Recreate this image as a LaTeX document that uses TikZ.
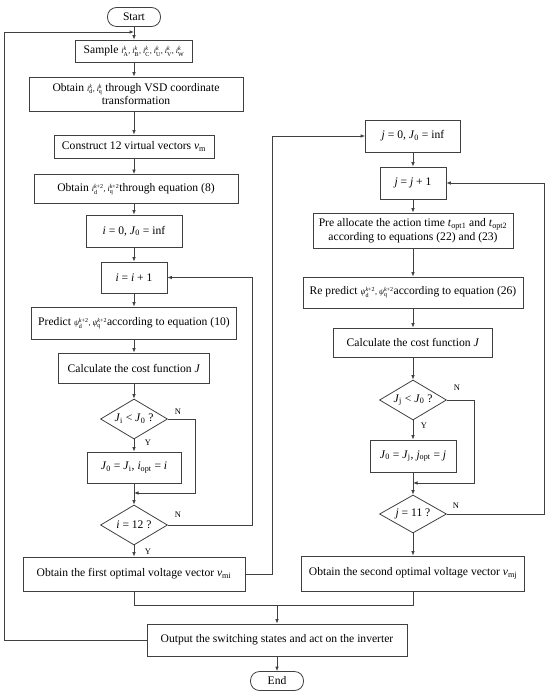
\documentclass[tikz,border=0pt]{standalone}
\usepackage{fontspec}
\setmainfont{Liberation Serif}
\usepackage{amsmath}
\usetikzlibrary{shapes.geometric,arrows.meta}
\definecolor{linegray}{RGB}{64,64,64}
\newcommand\vq[3]{\ensuremath{\text{\itshape #1}^{\text{#3}}_{\text{#2}}}}
\begin{document}
\begin{tikzpicture}[x=1pt,y=-1pt,
  line/.style={draw=linegray, line width=0.8pt},
  arr/.style={line, -{Latex[length=4.5pt,width=3.6pt]}},
  box/.style={draw=linegray, line width=0.8pt, rectangle, inner sep=1pt, align=center, font=\fontsize{11.6}{13.6}\selectfont},
  term/.style={box, rounded corners=9pt, minimum width=53pt, minimum height=19pt},
  dec/.style={draw=linegray, line width=0.8pt, diamond, aspect=1.7, inner sep=0pt, minimum width=67pt, minimum height=40pt, font=\fontsize{11.6}{13.6}\selectfont},
  lab/.style={font=\fontsize{8.5}{9}\selectfont, inner sep=0pt}
]
\useasboundingbox (0,0) rectangle (550,692);
% left column
\node[term] (start) at (134,17) {Start};
\node[box, minimum width=117pt, minimum height=22pt] (sample) at (134,51) {Sample {\footnotesize \vq{i}{A}{\itshape k}, \vq{i}{B}{\itshape k}, \vq{i}{C}{\itshape k}, \vq{i}{U}{\itshape k}, \vq{i}{V}{\itshape k}, \vq{i}{W}{\itshape k}}};
\node[box, minimum width=214pt, minimum height=34pt] (vsd) at (136,94) {Obtain {\footnotesize\vq{i}{d}{\itshape k}, \vq{i}{q}{\itshape k}} through VSD coordinate\\transformation};
\node[box, minimum width=160pt, minimum height=23pt] (cons) at (134,146.5) {Construct 12 virtual vectors \textit{v}\textsubscript{m}};
\node[box, minimum width=204pt, minimum height=29pt] (obt8) at (136,189) {Obtain {\footnotesize\vq{i}{d}{\itshape k\upshape+2}, \vq{i}{q}{\itshape k\upshape+2}}through equation (8)};
\node[box, minimum width=96pt, minimum height=32pt] (i0) at (134,231) {\textit{i} = 0, \textit{J}\textsubscript{0} = inf};
\node[box, minimum width=66pt, minimum height=31pt] (inc) at (134,277.5) {\textit{i} = \textit{i} + 1};
\node[box, minimum width=205pt, minimum height=32pt] (pred) at (134,323) {Predict {\footnotesize\vq{ψ}{d}{\itshape k\upshape+2}, \vq{ψ}{q}{\itshape k\upshape+2}}according to equation (10)};
\node[box, minimum width=151pt, minimum height=30pt] (calc) at (134,368) {Calculate the cost function \textit{J}};
\node[dec] (d1) at (134,419) {\textit{J}\textsubscript{i} < \textit{J}\textsubscript{0} ?};
\node[box, minimum width=94pt, minimum height=31pt] (j0i) at (134,467.5) {\textit{J}\textsubscript{0} = \textit{J}\textsubscript{i}, \textit{i}\textsubscript{opt} = \textit{i}};
\node[dec] (d2) at (134,525) {\textit{i} = 12 ?};
\node[box, minimum width=222pt, minimum height=34pt] (obt1) at (134,574) {Obtain the first optimal voltage vector \textit{v}\textsubscript{mi}};
% right column
\node[box, minimum width=95pt, minimum height=32pt] (rj0) at (413,136) {\textit{j} = 0, \textit{J}\textsubscript{0} = inf};
\node[box, minimum width=66pt, minimum height=32pt] (rinc) at (413,183) {\textit{j} = \textit{j} + 1};
\node[box, minimum width=200pt, minimum height=35pt] (pre) at (413,230.5) {Pre allocate the action time \textit{t}\textsubscript{opt1} and \textit{t}\textsubscript{opt2}\\according to equations (22) and (23)};
\node[box, minimum width=220pt, minimum height=31pt] (rpred) at (413,292.5) {Re predict {\footnotesize\vq{ψ}{d}{\itshape k\upshape+2}, \vq{ψ}{q}{\itshape k\upshape+2}}according to equation (26)};
\node[box, minimum width=159pt, minimum height=29pt] (rcalc) at (413,342.5) {Calculate the cost function \textit{J}};
\node[dec] (d3) at (413,400) {\textit{J}\textsubscript{j} < \textit{J}\textsubscript{0} ?};
\node[box, minimum width=86pt, minimum height=32pt] (j0j) at (413,456) {\textit{J}\textsubscript{0} = \textit{J}\textsubscript{j}, \textit{j}\textsubscript{opt} = \textit{j}};
\node[dec, minimum height=38pt] (d4) at (413,514) {\textit{j} = 11 ?};
\node[box, minimum width=223pt, minimum height=35pt] (obt2) at (413,573.5) {Obtain the second optimal voltage vector \textit{v}\textsubscript{mj}};
% bottom
\node[box, minimum width=260pt, minimum height=32pt] (out) at (277,640) {Output the switching states and act on the inverter};
\node[term] (end) at (277,681) {End};
% labels
\node[lab] (n1) at (178,412) {N};
\node[lab] (y1) at (148,443) {Y};
\node[lab] (n2) at (178,515) {N};
\node[lab] (y2) at (148,552) {Y};
\node[lab] (n3) at (457,388) {N};
\node[lab] (y3) at (424,426) {Y};
\node[lab] (n4) at (456,506) {N};
% coordinates
\coordinate (fbtop) at (134,32);
\coordinate (fbx) at (4,0);
\coordinate (m1) at (134,493);
\coordinate (m3) at (413,483);
\coordinate (jn) at (277,605);
% connectors
\draw[arr] (start) -- (sample);
\draw[arr] (out.west) -| (fbx |- fbtop) -- (fbtop);
\draw[arr] (sample) -- (sample |- vsd.north);
\draw[arr] (sample |- vsd.south) -- (cons);
\draw[arr] (cons) -- (cons |- obt8.north);
\draw[arr] (cons |- obt8.south) -- (i0);
\draw[arr] (i0) -- (inc);
\draw[arr] (inc) -- (pred);
\draw[arr] (pred) -- (calc);
\draw[arr] (calc) -- (d1);
\draw[arr] (d1) -- (j0i);
\draw[arr] (d1.east) -- ++(27,0) |- (m1);
\draw[arr] (j0i) -- (d2);
\draw[arr] (d2.east) -- ++(84,0) |- (inc.east);
\draw[arr] (d2) -- (obt1);
\draw[arr] (obt1.east) -- ++(27,0) |- (rj0.west);
\draw[arr] (rj0) -- (rinc);
\draw[arr] (rinc) -- (pre);
\draw[arr] (pre) -- (rpred);
\draw[arr] (rpred) -- (rcalc);
\draw[arr] (rcalc) -- (d3);
\draw[arr] (d3) -- (j0j);
\draw[arr] (d3.east) -- ++(27,0) |- (m3);
\draw[arr] (j0j) -- (d4);
\draw[arr] (d4.east) -- ++(97.5,0) |- (rinc.east);
\draw[arr] (d4) -- (obt2);
\draw[line] (obt1.south) |- (jn);
\draw[line] (obt2.south) |- (jn);
\draw[arr] (jn) -- (out);
\draw[arr] (out) -- (end);
\end{tikzpicture}
\end{document}
